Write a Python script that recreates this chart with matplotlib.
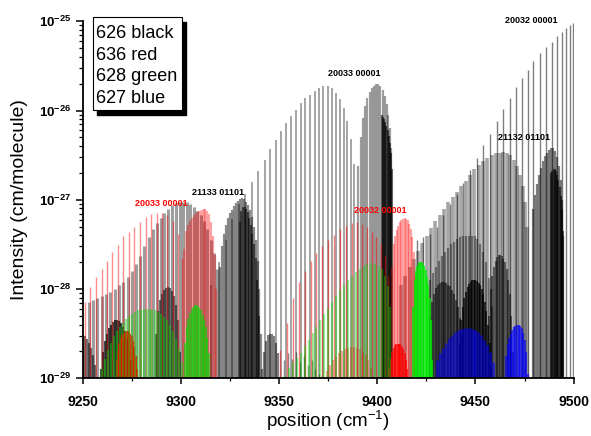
import numpy as np
import matplotlib
matplotlib.use("Agg")
import matplotlib.pyplot as plt
from matplotlib.ticker import LogLocator, MultipleLocator, NullFormatter
from matplotlib.patches import Rectangle

plt.rcParams['font.family'] = ['Liberation Sans', 'DejaVu Sans']
plt.rcParams['mathtext.fontset'] = 'custom'
plt.rcParams['mathtext.rm'] = 'Liberation Sans'
plt.rcParams['mathtext.bf'] = 'Liberation Sans:bold'

# ---- line lists: position (cm-1), log10 intensity ----
# 626 (black)
x_626_20032_p = [9420.0, 9423.4, 9426.8, 9430.2, 9433.6, 9437.0, 9440.4, 9443.8, 9447.2, 9450.6, 9454.0, 9457.4, 9460.8, 9464.2,
                 9467.4, 9470.5, 9473.5, 9476.6, 9479.4, 9482.9, 9485.9, 9488.8, 9491.3, 9493.8, 9496.1, 9498.2, 9499.7]
lg_626_20032_p = [-27.45, -27.42, -27.38, -27.30, -27.17, -27.05, -26.93, -26.81, -26.67, -26.53, -26.39, -26.26, -26.12, -25.98,
                  -25.86, -25.74, -25.64, -25.54, -25.45, -25.36, -25.29, -25.23, -25.17, -25.12, -25.07, -25.04, -25.02]

x_626_20033_p = [9315.5, 9319.2, 9322.7, 9326.1, 9329.4, 9332.6, 9336.0, 9339.4, 9342.6, 9345.6, 9348.3, 9351.0, 9353.6, 9356.1,
                 9358.6, 9361.0, 9363.4, 9365.8, 9368.1, 9370.4, 9372.6, 9374.7, 9376.8, 9378.8, 9380.8, 9382.8, 9384.7, 9386.5, 9388.2]
lg_626_20033_p = [-27.95, -27.70, -27.45, -27.22, -27.05, -26.93, -26.80, -26.68, -26.55, -26.43, -26.33, -26.23, -26.14, -26.06,
                  -25.99, -25.92, -25.86, -25.82, -25.78, -25.75, -25.73, -25.73, -25.75, -25.80, -25.87, -25.97, -26.12, -26.32, -26.60]

x_626_20033_r = [9390.4, 9391.6, 9392.8, 9393.9, 9395.0, 9396.1, 9397.2, 9398.3, 9399.4, 9400.5, 9401.6, 9402.7, 9403.7, 9404.7,
                 9405.6, 9406.4, 9407.1]
lg_626_20033_r = [-26.62, -26.30, -26.08, -25.95, -25.86, -25.79, -25.75, -25.72, -25.70, -25.70, -25.72, -25.77, -25.84, -25.93,
                  -26.05, -26.20, -26.42]

x_626_20033_h = [9402.2, 9402.8, 9403.4, 9404.0, 9404.6, 9405.2, 9405.8, 9406.4, 9407.0, 9407.5]
lg_626_20033_h = [-26.05, -26.07, -26.10, -26.13, -26.17, -26.22, -26.28, -26.36, -26.47, -26.65]

x_626_21133_p = [9253.0, 9255.2, 9257.4, 9259.6, 9261.8, 9264.0, 9266.2, 9268.4, 9270.6, 9272.8, 9275.0, 9277.2, 9279.3, 9281.4,
                 9283.5, 9285.6, 9287.6, 9289.6, 9291.6, 9293.6, 9295.5, 9297.4, 9299.3, 9301.2, 9303.0, 9304.8, 9306.6, 9308.4,
                 9310.1, 9311.8, 9313.5, 9315.1, 9316.7, 9318.2]
lg_626_21133_p = [-28.15, -28.12, -28.10, -28.08, -28.06, -28.03, -28.00, -27.96, -27.92, -27.86, -27.80, -27.72, -27.63, -27.52,
                  -27.42, -27.33, -27.26, -27.20, -27.15, -27.10, -27.06, -27.04, -27.03, -27.02, -27.03, -27.05, -27.08, -27.12,
                  -27.17, -27.24, -27.33, -27.45, -27.60, -27.78]

x_626_21133_r = [9320.0, 9321.0, 9322.0, 9323.0, 9324.0, 9325.0, 9326.0, 9327.0, 9328.0, 9329.0, 9330.0, 9331.0, 9332.0, 9333.0,
                 9334.0, 9335.0, 9336.0, 9337.0, 9338.0, 9339.0, 9340.0, 9341.0]
lg_626_21133_r = [-27.75, -27.52, -27.38, -27.28, -27.20, -27.15, -27.11, -27.07, -27.04, -27.01, -26.99, -26.98, -26.99, -27.02,
                  -27.06, -27.11, -27.19, -27.30, -27.45, -27.68, -28.00, -28.50]

x_626_21133_h = [9330.0, 9330.8, 9331.6, 9332.4, 9333.2, 9334.0, 9334.8, 9335.6, 9336.4, 9337.2, 9338.0, 9338.8, 9339.6]
lg_626_21133_h = [-27.25, -27.12, -27.08, -27.08, -27.10, -27.14, -27.20, -27.28, -27.38, -27.50, -27.65, -27.90, -28.30]

x_626_21132_p = [9412.0, 9414.2, 9416.4, 9418.6, 9420.8, 9423.0, 9425.2, 9427.4, 9429.6, 9431.8, 9434.0, 9436.2, 9438.4, 9440.6,
                 9442.8, 9445.0, 9447.2, 9449.4, 9451.6, 9453.8, 9456.0, 9458.2, 9460.3, 9462.3, 9464.2, 9466.0, 9467.8, 9469.5,
                 9471.1, 9472.6, 9474.0, 9475.3, 9476.4]
lg_626_21132_p = [-27.95, -27.85, -27.75, -27.66, -27.57, -27.48, -27.40, -27.32, -27.24, -27.17, -27.10, -27.03, -26.97, -26.91,
                  -26.85, -26.79, -26.72, -26.66, -26.61, -26.57, -26.53, -26.50, -26.48, -26.47, -26.46, -26.47, -26.50, -26.55,
                  -26.62, -26.72, -26.85, -27.02, -27.30]

x_626_21132_r = [9479.5, 9480.5, 9481.5, 9482.5, 9483.5, 9484.5, 9485.5, 9486.5, 9487.5, 9488.5, 9489.5, 9490.5, 9491.5, 9492.5,
                 9493.3, 9494.0, 9494.6]
lg_626_21132_r = [-27.10, -26.95, -26.82, -26.72, -26.64, -26.57, -26.51, -26.47, -26.44, -26.42, -26.42, -26.45, -26.52, -26.62,
                  -26.78, -27.00, -27.40]

x_626_21132_h = [9488.6, 9489.2, 9489.8, 9490.4, 9491.0, 9491.6, 9492.2, 9492.8, 9493.4, 9494.0, 9494.6]
lg_626_21132_h = [-26.70, -26.68, -26.66, -26.66, -26.68, -26.72, -26.78, -26.86, -26.96, -27.10, -27.35]

# weaker 626 hot bands
x_hot_a = [9259.5, 9260.5, 9261.5, 9262.5, 9263.5, 9264.5, 9265.5, 9266.5, 9267.5, 9268.5, 9269.5, 9270.5, 9271.5, 9272.5,
           9273.5, 9274.5, 9275.5]
lg_hot_a = [-28.90, -28.70, -28.58, -28.50, -28.44, -28.40, -28.37, -28.35, -28.35, -28.36, -28.38, -28.42, -28.47, -28.55,
            -28.66, -28.80, -29.00]
x_hot_b = [9287.5, 9288.5, 9289.5, 9290.5, 9291.5, 9292.5, 9293.5, 9294.5, 9295.5, 9296.5, 9297.5, 9298.5, 9299.5]
lg_hot_b = [-28.50, -28.25, -28.12, -28.05, -28.01, -27.99, -27.98, -27.99, -28.02, -28.08, -28.18, -28.35, -28.70]
x_hot_c = [9250.0, 9251.0, 9252.0, 9253.0, 9254.0, 9255.0, 9256.0, 9257.0]
lg_hot_c = [-28.52, -28.53, -28.56, -28.60, -28.66, -28.74, -28.85, -29.00]
x_hot_d = [9341.5, 9342.5, 9343.5, 9344.5, 9345.5, 9346.5, 9347.5, 9348.5, 9349.5, 9350.5]
lg_hot_d = [-28.90, -28.70, -28.58, -28.52, -28.50, -28.50, -28.53, -28.60, -28.72, -29.00]
x_hot_e = [9427.0, 9428.0, 9429.0, 9430.0, 9431.0, 9432.0, 9433.0, 9434.0, 9435.0, 9436.0, 9437.0, 9438.0, 9439.0, 9440.0,
           9441.0, 9442.0, 9443.0]
lg_hot_e = [-28.30, -28.15, -28.05, -27.99, -27.95, -27.93, -27.92, -27.92, -27.93, -27.95, -27.97, -28.01, -28.05, -28.12,
            -28.20, -28.32, -28.50]
x_hot_f = [9427.0, 9428.5, 9430.0, 9431.5, 9433.0, 9434.5, 9436.0, 9437.5, 9439.0, 9440.5, 9442.0, 9443.5, 9445.0, 9446.5,
           9448.0, 9449.5, 9451.0, 9452.5, 9454.0, 9455.5, 9457.0, 9458.5]
lg_hot_f = [-27.90, -27.82, -27.75, -27.69, -27.63, -27.58, -27.54, -27.50, -27.47, -27.44, -27.42, -27.41, -27.40, -27.40,
            -27.40, -27.41, -27.44, -27.50, -27.58, -27.70, -27.88, -28.20]
x_hot_g = [9442.0, 9442.8, 9443.6, 9444.4, 9445.2, 9446.0, 9446.8, 9447.6, 9448.4, 9449.2, 9450.0, 9450.8, 9451.6, 9452.4,
           9453.2, 9454.0, 9454.8, 9455.6, 9456.4, 9457.2, 9458.0]
lg_hot_g = [-28.60, -28.35, -28.20, -28.10, -28.03, -27.98, -27.94, -27.92, -27.90, -27.90, -27.90, -27.91, -27.93, -27.96,
            -28.00, -28.06, -28.14, -28.25, -28.40, -28.60, -28.90]
x_hot_h = [9457.0, 9457.8, 9458.6, 9459.4, 9460.2, 9461.0, 9461.8, 9462.6, 9463.4, 9464.2, 9465.0, 9465.8, 9466.6, 9467.4,
           9468.2, 9469.0]
lg_hot_h = [-28.30, -28.00, -27.85, -27.75, -27.68, -27.64, -27.62, -27.62, -27.63, -27.66, -27.70, -27.78, -27.90, -28.05,
            -28.30, -28.70]
x_hot_i = [9352.5, 9354.5, 9356.5, 9358.5, 9360.5, 9362.5, 9364.5, 9366.5, 9368.5, 9370.5]
lg_hot_i = [-28.80, -28.72, -28.78, -28.70, -28.82, -28.75, -28.85, -28.80, -28.90, -28.95]

# 636 (red)
x_636_20033_p = [9251.2, 9253.7, 9256.6, 9259.7, 9262.2, 9265.1, 9267.8, 9270.7, 9273.6, 9276.3, 9279.2, 9282.1, 9284.8, 9287.7,
                 9290.2, 9293.0, 9295.8, 9298.4, 9300.8]
lg_636_20033_p = [-28.15, -27.98, -27.86, -27.77, -27.68, -27.58, -27.51, -27.41, -27.36, -27.30, -27.25, -27.19, -27.16, -27.15,
                  -27.15, -27.17, -27.24, -27.38, -27.65]
x_636_20033_r = [9301.5, 9302.5, 9303.5, 9304.5, 9305.5, 9306.5, 9307.5, 9308.5, 9309.5, 9310.5, 9311.5, 9312.5, 9313.5, 9314.5,
                 9315.5, 9316.5, 9317.3, 9318.0]
lg_636_20033_r = [-27.55, -27.35, -27.28, -27.24, -27.20, -27.17, -27.15, -27.13, -27.12, -27.11, -27.10, -27.10, -27.12, -27.16,
                  -27.25, -27.40, -27.62, -28.00]
x_636_20032_p = [9350.5, 9353.9, 9357.0, 9360.0, 9363.0, 9366.0, 9369.0, 9372.0, 9375.0, 9378.0, 9381.0, 9384.0, 9387.0, 9389.7,
                 9392.3, 9394.8, 9397.2, 9399.5, 9401.7, 9403.8, 9405.6]
lg_636_20032_p = [-28.68, -28.38, -28.10, -27.92, -27.80, -27.69, -27.60, -27.52, -27.45, -27.39, -27.33, -27.29, -27.26, -27.25,
                  -27.27, -27.31, -27.36, -27.42, -27.50, -27.62, -27.85]
x_636_20032_r = [9407.5, 9408.3, 9409.1, 9409.9, 9410.7, 9411.5, 9412.3, 9413.1, 9413.9, 9414.7, 9415.5, 9416.3, 9417.1, 9417.9,
                 9418.6, 9419.3]
lg_636_20032_r = [-27.75, -27.50, -27.40, -27.34, -27.29, -27.25, -27.23, -27.21, -27.20, -27.21, -27.23, -27.27, -27.33, -27.42,
                  -27.58, -27.85]
x_636_hot1 = [9266.5, 9267.2, 9267.9, 9268.6, 9269.3, 9270.0, 9270.7, 9271.4, 9272.1, 9272.8, 9273.5, 9274.2, 9274.9, 9275.6,
              9276.3, 9277.0, 9277.7, 9278.4]
lg_636_hot1 = [-29.00, -28.80, -28.68, -28.60, -28.55, -28.52, -28.50, -28.48, -28.47, -28.47, -28.48, -28.50, -28.53, -28.58,
               -28.65, -28.75, -28.90, -29.20]
x_636_hot2 = [9373.0, 9374.5, 9376.0, 9377.5, 9379.0, 9380.5, 9382.0, 9383.5, 9385.0, 9386.5, 9388.0, 9389.5, 9391.0, 9392.5,
              9394.0, 9395.5, 9397.0, 9398.5, 9400.0]
lg_636_hot2 = [-29.00, -28.92, -28.85, -28.80, -28.76, -28.72, -28.69, -28.67, -28.66, -28.65, -28.65, -28.66, -28.67, -28.70,
               -28.74, -28.80, -28.88, -29.00, -29.20]
x_636_hot3 = [9405.5, 9406.2, 9406.9, 9407.6, 9408.3, 9409.0, 9409.7, 9410.4, 9411.1, 9411.8, 9412.5, 9413.2, 9413.9, 9414.6,
              9415.3, 9416.0, 9416.7, 9417.4]
lg_636_hot3 = [-29.10, -28.90, -28.78, -28.70, -28.66, -28.63, -28.62, -28.61, -28.61, -28.62, -28.64, -28.67, -28.72, -28.80,
               -28.90, -29.05, -29.20, -29.40]

# 628 (green)
x_628_a_p = [9258.5, 9260.0, 9261.5, 9263.0, 9264.5, 9266.0, 9267.5, 9269.0, 9270.5, 9272.0, 9273.5, 9275.0, 9276.5, 9278.0,
             9279.5, 9281.0, 9282.5, 9284.0, 9285.5, 9287.0, 9288.5, 9290.0, 9291.5, 9293.0, 9294.5, 9296.0, 9297.5, 9299.0, 9300.5]
lg_628_a_p = [-29.00, -28.90, -28.78, -28.68, -28.60, -28.53, -28.47, -28.42, -28.38, -28.34, -28.30, -28.28, -28.26, -28.24,
              -28.23, -28.22, -28.22, -28.22, -28.23, -28.24, -28.26, -28.28, -28.31, -28.35, -28.40, -28.47, -28.56, -28.67, -28.82]
x_628_a_r = [9302.2, 9303.0, 9303.8, 9304.6, 9305.4, 9306.2, 9307.0, 9307.8, 9308.6, 9309.4, 9310.2, 9311.0, 9311.8, 9312.6,
             9313.4, 9314.2, 9315.0]
lg_628_a_r = [-28.60, -28.42, -28.33, -28.27, -28.23, -28.20, -28.18, -28.18, -28.19, -28.21, -28.24, -28.29, -28.35, -28.43,
              -28.55, -28.72, -29.00]
x_628_b_p = [9353.0, 9355.0, 9357.0, 9359.0, 9361.0, 9363.0, 9365.0, 9367.0, 9369.0, 9371.0, 9373.0, 9375.0, 9377.0, 9379.0,
             9381.0, 9383.0, 9385.0, 9387.0, 9389.0, 9391.0, 9393.0, 9395.0, 9397.0, 9399.0, 9400.8, 9402.5, 9404.0, 9405.3, 9406.4]
lg_628_b_p = [-28.97, -28.88, -28.82, -28.77, -28.72, -28.64, -28.57, -28.49, -28.42, -28.35, -28.28, -28.22, -28.15, -28.08,
              -28.01, -27.95, -27.90, -27.85, -27.81, -27.77, -27.74, -27.72, -27.71, -27.72, -27.74, -27.78, -27.85, -27.97, -28.20]
x_628_b_r = [9418.3, 9419.0, 9419.7, 9420.4, 9421.1, 9421.8, 9422.5, 9423.2, 9423.9, 9424.6, 9425.3, 9426.0, 9426.7, 9427.4,
             9428.0]
lg_628_b_r = [-28.20, -27.90, -27.80, -27.74, -27.71, -27.70, -27.70, -27.71, -27.74, -27.79, -27.86, -27.96, -28.10, -28.35,
              -28.80]

# 627 (blue)
x_627_a = [9430.5, 9432.0, 9433.5, 9435.0, 9436.5, 9438.0, 9439.5, 9441.0, 9442.5, 9444.0, 9445.5, 9447.0, 9448.5, 9450.0,
           9451.5, 9453.0, 9454.5, 9456.0, 9457.5, 9459.0, 9460.5]
lg_627_a = [-28.80, -28.72, -28.66, -28.60, -28.55, -28.51, -28.48, -28.46, -28.45, -28.44, -28.44, -28.44, -28.45, -28.46,
            -28.48, -28.52, -28.57, -28.63, -28.71, -28.82, -29.00]
x_627_b = [9465.5, 9466.3, 9467.1, 9467.9, 9468.7, 9469.5, 9470.3, 9471.1, 9471.9, 9472.7, 9473.5, 9474.3, 9475.1, 9475.9,
           9476.6]
lg_627_b = [-28.75, -28.62, -28.55, -28.50, -28.46, -28.43, -28.41, -28.40, -28.40, -28.41, -28.44, -28.49, -28.57, -28.70,
            -28.95]

# band labels
band_names = ["20032 00001", "20033 00001", "21132 01101", "20032 00001", "21133 01101", "20033 00001"]
band_x = [9478.5, 9388.5, 9474.8, 9401.5, 9318.8, 9290.0]
band_lg = [-24.99, -25.58, -26.30, -27.12, -26.92, -27.04]
band_col = ['black', 'black', 'black', 'red', 'black', 'red']

legend_lines = ["626 black", "636 red", "628 green", "627 blue"]

fig = plt.figure(figsize=(5.91, 4.36), dpi=100)
ax = fig.add_axes([0.14, 0.1323, 0.8307, 0.8188])


def sticks(x, lg, color, alpha, lw):
    ax.vlines(x, 1e-30, np.power(10.0, lg), colors=color, alpha=alpha, linewidth=lw)


# 626
sticks(x_hot_c, lg_hot_c, 'k', 0.55, 1.5)
sticks(x_hot_i, lg_hot_i, 'k', 0.45, 1.0)
sticks(x_hot_a, lg_hot_a, 'k', 0.7, 1.5)
sticks(x_hot_b, lg_hot_b, 'k', 0.55, 1.5)
sticks(x_hot_d, lg_hot_d, 'k', 0.5, 1.5)
sticks(x_hot_e, lg_hot_e, 'k', 0.55, 1.5)
sticks(x_hot_f, lg_hot_f, 'k', 0.4, 1.6)
sticks(x_hot_g, lg_hot_g, 'k', 0.7, 1.5)
sticks(x_hot_h, lg_hot_h, 'k', 0.5, 1.5)
sticks(x_626_21133_p, lg_626_21133_p, 'k', 0.38, 2.2)
sticks(x_626_21133_r, lg_626_21133_r, 'k', 0.45, 1.6)
sticks(x_626_21133_h, lg_626_21133_h, 'k', 0.55, 1.5)
sticks(x_626_21132_p, lg_626_21132_p, 'k', 0.35, 2.6)
sticks(x_626_21132_r, lg_626_21132_r, 'k', 0.5, 1.6)
sticks(x_626_21132_h, lg_626_21132_h, 'k', 0.6, 1.5)
sticks(x_626_20033_p, lg_626_20033_p, 'k', 0.45, 1.1)
sticks(x_626_20033_r, lg_626_20033_r, 'k', 0.38, 1.6)
sticks(x_626_20033_h, lg_626_20033_h, 'k', 0.6, 1.5)
sticks(x_626_20032_p, lg_626_20032_p, 'k', 0.5, 1.0)
# 636
sticks(x_636_20033_p, lg_636_20033_p, 'red', 0.45, 1.0)
sticks(x_636_20033_r, lg_636_20033_r, 'red', 0.35, 1.6)
sticks(x_636_20032_p, lg_636_20032_p, 'red', 0.5, 1.0)
sticks(x_636_20032_r, lg_636_20032_r, 'red', 0.35, 1.6)
sticks(x_636_hot1, lg_636_hot1, 'red', 0.8, 1.5)
sticks(x_636_hot2, lg_636_hot2, 'red', 0.35, 1.5)
sticks(x_636_hot3, lg_636_hot3, 'red', 0.7, 1.5)
# 628
sticks(x_628_a_p, lg_628_a_p, '#00dd00', 0.45, 1.6)
sticks(x_628_a_r, lg_628_a_r, '#00dd00', 0.6, 1.6)
sticks(x_628_b_p, lg_628_b_p, '#00dd00', 0.4, 1.6)
sticks(x_628_b_r, lg_628_b_r, '#00ee00', 0.75, 1.6)
# 627
sticks(x_627_a, lg_627_a, 'blue', 0.55, 2.2)
sticks(x_627_b, lg_627_b, 'blue', 0.65, 1.6)

for name, bx, bl, bc in zip(band_names, band_x, band_lg, band_col):
    ax.text(bx, 10 ** bl, name, color=bc, fontsize=6.5, fontweight='bold',
            ha='center', va='center', clip_on=False)

ax.set_yscale('log')
ax.set_xlim(9250, 9500)
ax.set_ylim(1e-29, 1e-25)
ax.spines['top'].set_visible(False)
ax.spines['right'].set_visible(False)
for s in ['left', 'bottom']:
    ax.spines[s].set_linewidth(1.3)

yt = [1e-29, 1e-28, 1e-27, 1e-26, 1e-25]
ax.set_yticks(yt)
ax.set_yticklabels([r'$\mathbf{10^{%d}}$' % e for e in [-29, -28, -27, -26, -25]])
ax.yaxis.set_minor_locator(LogLocator(base=10, subs=np.arange(2, 10)))
ax.yaxis.set_minor_formatter(NullFormatter())
ax.set_xticks([9250, 9300, 9350, 9400, 9450, 9500])
ax.set_xticklabels(['9250', '9300', '9350', '9400', '9450', '9500'], fontweight='bold')
ax.xaxis.set_minor_locator(MultipleLocator(25))

ax.tick_params(axis='y', which='major', length=5, width=1.1, labelsize=9.5, pad=3, direction='out')
ax.tick_params(axis='y', which='minor', length=3, width=0.9, direction='out')
ax.tick_params(axis='x', which='major', length=4, width=1.1, labelsize=10, pad=8, direction='out')
ax.tick_params(axis='x', which='minor', length=2.5, width=0.9, direction='out')

ax.set_xlabel(r'position (cm$^{-1}$)', fontsize=13.5)
ax.xaxis.set_label_coords(0.5, -0.085)
ax.set_ylabel('Intensity (cm/molecule)', fontsize=14)
ax.yaxis.set_label_coords(-0.111, 0.5)

# legend-like box with drop shadow
fig.patches.append(Rectangle((0.1636, 0.7362), 0.1503, 0.2133, transform=fig.transFigure,
                             facecolor='black', edgecolor='black', zorder=5))
fig.patches.append(Rectangle((0.1569, 0.7477), 0.1505, 0.2133, transform=fig.transFigure,
                             facecolor='white', edgecolor='black', linewidth=0.8, zorder=6))
for i, t in enumerate(legend_lines):
    fig.text(0.1624, 0.9128 - i * 0.0497, t, fontsize=13, va='baseline', ha='left', zorder=7)

fig.savefig('out.png', dpi=100)
